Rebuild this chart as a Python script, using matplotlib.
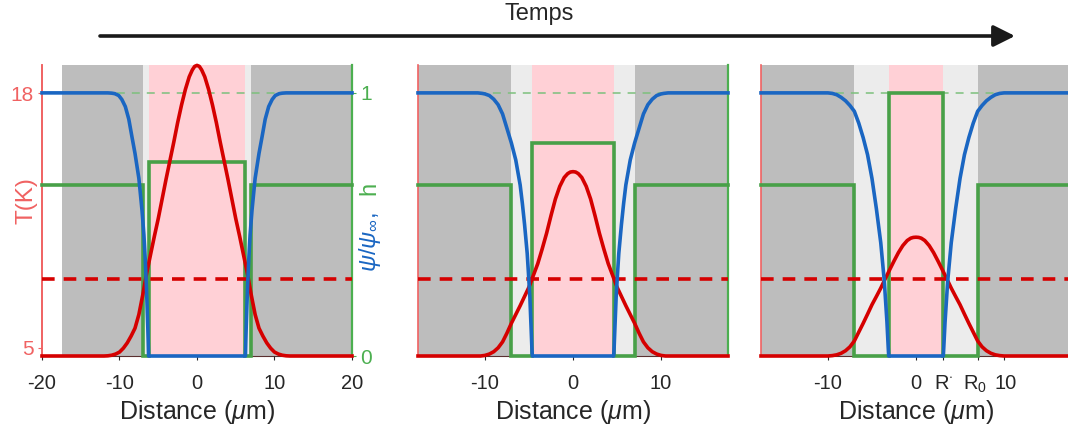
import matplotlib.pyplot as plt
import numpy as np
from matplotlib.patches import FancyArrowPatch
from matplotlib.transforms import ScaledTranslation

plt.rcParams['font.family'] = ['Liberation Sans', 'DejaVu Sans']
plt.rcParams['mathtext.fontset'] = 'custom'
plt.rcParams['mathtext.rm'] = 'Liberation Sans'
plt.rcParams['mathtext.it'] = 'Liberation Sans:italic'
plt.rcParams['axes.unicode_minus'] = False

# ---- data (left half, x <= 0; the profiles are symmetric) ----
# temperature T(K)
x_T1 = [-20, -12, -11.5, -11, -10.5, -10, -9.5, -9, -8.5, -8, -7.5, -7, -6.5, -6, -5.5, -5,
        -4.5, -4, -3.5, -3, -2.5, -2, -1.5, -1, -0.6, -0.3, 0]
T1 = [4.58, 4.58, 4.59, 4.62, 4.68, 4.78, 4.98, 5.25, 5.6, 6.0, 6.7, 7.7, 8.8, 9.75, 10.7, 11.6,
      12.6, 13.6, 14.55, 15.5, 16.5, 17.4, 18.2, 18.85, 19.2, 19.38, 19.43]
x_T2 = [-17.6, -10.5, -10, -9.5, -9, -8.5, -8, -7.5, -7, -6.5, -6, -5, -4, -3.5, -3, -2.5,
        -2, -1.5, -1, -0.6, -0.3, 0]
T2 = [4.58, 4.58, 4.61, 4.68, 4.8, 5.0, 5.3, 5.75, 6.25, 6.7, 7.15, 8.1, 9.3, 10.05, 10.85, 11.75,
      12.6, 13.25, 13.7, 13.9, 13.98, 14.0]
x_T3 = [-17.6, -10, -9.5, -9, -8.5, -8, -7.5, -7, -6.5, -6, -5.5, -5, -4.5, -4, -3.5, -3,
        -2.5, -2, -1.5, -1, -0.6, -0.3, 0]
T3 = [4.58, 4.58, 4.6, 4.64, 4.72, 4.85, 5.05, 5.35, 5.8, 6.25, 6.72, 7.2, 7.62, 8.05, 8.52, 8.98,
      9.43, 9.86, 10.22, 10.48, 10.6, 10.64, 10.65]

# order parameter psi/psi_inf
x_p1 = [-20, -11.5, -11, -10.6, -10.1, -9.7, -9.25, -8.8, -8.4, -8.0, -7.5, -7.1, -6.85, -6.7,
        -6.55, -6.45, -6.35, -6.3, -6.25]
p1 = [1, 1, 0.999, 0.997, 0.99, 0.975, 0.948, 0.9, 0.834, 0.77, 0.675, 0.555, 0.46, 0.38,
      0.28, 0.2, 0.11, 0.06, 0]
x_p2 = [-17.6, -10.8, -10.3, -10, -9.5, -9, -8.5, -8, -7.5, -7, -6.5, -6, -5.75, -5.5, -5.2,
        -5.05, -4.9, -4.75, -4.68, -4.62]
p2 = [1, 1, 0.998, 0.996, 0.99, 0.976, 0.955, 0.92, 0.865, 0.81, 0.745, 0.65, 0.58, 0.5, 0.39,
      0.31, 0.225, 0.1, 0.04, 0]
x_p3 = [-17.6, -10, -9.5, -9, -8.5, -8, -7.5, -7, -6.5, -6, -5.5, -5, -4.5, -4, -3.6, -3.3,
        -3.15, -3.1]
p3 = [1, 1, 0.998, 0.993, 0.983, 0.97, 0.952, 0.93, 0.885, 0.83, 0.765, 0.675, 0.56, 0.43,
      0.285, 0.13, 0.03, 0]

# h levels and radii
h_out = [0.65, 0.65, 0.65]
h_in = [0.736, 0.808, 1.0]
R0 = [7.0, 7.0, 7.0]
Rstar = [6.25, 4.65, 3.1]
T_c = 8.5

xlims = [20, 17.6, 17.6]
gray_start = [-17.4, -17.6, -17.6]

x_T = [x_T1, x_T2, x_T3]
T_all = [T1, T2, T3]
x_p = [x_p1, x_p2, x_p3]
p_all = [p1, p2, p3]

# ---- styles ----
c_red = '#d50000'
c_red_lt = '#f06262'
c_blue = '#1a66c2'
c_green = '#48a048'
c_green_lt = '#4caf50'
c_gray = '#bdbdbd'
c_lgray = '#ececec'
c_pink = '#ffd0d6'
txt = '#262626'
lw = 2.6

T_lo, T_hi = 4.58, 19.45
v_hi = 1.106


def T2v(T):
    return (np.asarray(T) - T_lo) / (T_hi - T_lo) * v_hi


def v2T(v):
    return np.asarray(v) / v_hi * (T_hi - T_lo) + T_lo


def mirror(x, y):
    x = list(x)
    y = list(y)
    return x + [-a for a in x[::-1]], y + y[::-1]


fig = plt.figure(figsize=(10.68, 4.32), dpi=100)
W, H = 1068, 432
lefts = [42, 418, 761]

for i in range(3):
    ax = fig.add_axes([lefts[i] / W, (H - 356) / H, 310 / W, 291 / H])
    L = xlims[i]
    r0, rs = R0[i], Rstar[i]

    # background regions
    ax.axvspan(gray_start[i], -r0, color=c_gray, lw=0, zorder=0)
    ax.axvspan(r0, L, color=c_gray, lw=0, zorder=0)
    ax.axvspan(-r0, -rs, color=c_lgray, lw=0, zorder=0)
    ax.axvspan(rs, r0, color=c_lgray, lw=0, zorder=0)
    ax.axvspan(-rs, rs, color=c_pink, lw=0, zorder=0)

    # h (step profile)
    hx = [-L, -r0, -r0, -rs, -rs, rs, rs, r0, r0, L]
    hy = [h_out[i], h_out[i], 0, 0, h_in[i], h_in[i], 0, 0, h_out[i], h_out[i]]
    ax.plot([-L, L], [1, 1], color='#7cc07c', lw=1.1, dashes=(5.2, 4.6), zorder=2)
    ax.plot(hx, hy, color=c_green, lw=lw, solid_joinstyle='miter', zorder=3, clip_on=False)

    # temperature
    ax.plot([-L, L], T2v([T_c, T_c]), color=c_red, lw=lw, dashes=(3.5, 2.5), zorder=4)
    tx, ty = mirror(x_T[i], T_all[i])
    ax.plot(tx, T2v(ty), color=c_red, lw=lw, zorder=5, clip_on=False)

    # psi
    px, py = mirror(x_p[i], p_all[i])
    ax.plot(px, py, color=c_blue, lw=lw, zorder=6, clip_on=False)

    ax.set_xlim(-L, L)
    ax.set_ylim(0, v_hi)
    ax.set_facecolor('none')

    ax.spines['top'].set_visible(False)
    ax.spines['left'].set_color(c_red_lt)
    ax.spines['left'].set_linewidth(1.2)
    ax.spines['right'].set_color(c_green_lt)
    ax.spines['right'].set_linewidth(1.6)
    ax.spines['bottom'].set_color('#5a3030')
    ax.spines['bottom'].set_linewidth(0.8)
    ax.spines['bottom'].set_zorder(1)

    ax.tick_params(axis='x', direction='out', length=3, width=0.8, color=txt,
                   labelsize=14.5, labelcolor=txt, pad=10)
    ax.set_xlabel(r'Distance ($\mu$m)', fontsize=18, color=txt)
    ax.xaxis.set_label_coords(0.5, -0.145)

    if i == 0:
        ax.set_xticks([-20, -10, 0, 10, 20])
        ax.yaxis.tick_right()
        ax.set_yticks([0, 1])
        ax.tick_params(axis='y', direction='out', length=3, color=c_green_lt,
                       labelcolor=c_green_lt, labelsize=15, pad=3)
        sec = ax.secondary_yaxis('left', functions=(v2T, T2v))
        sec.set_yticks([5, 18])
        sec.spines['left'].set_color(c_red_lt)
        sec.spines['left'].set_linewidth(1.2)
        sec.tick_params(axis='y', direction='out', length=3, color=c_red_lt,
                        labelcolor=c_red_lt, labelsize=15, pad=3)
        ax.text(-0.032, 0.533, 'T(K)', transform=ax.transAxes, rotation=90,
                rotation_mode='anchor', ha='center', va='baseline',
                fontsize=17.5, color=c_red_lt)
        ax.text(1.077, 0.289, r'$\psi/\psi_\infty$,', transform=ax.transAxes,
                rotation=90, rotation_mode='anchor', ha='left', va='baseline',
                fontsize=17, color=c_blue)
        ax.text(1.077, 0.598, 'h', transform=ax.transAxes, rotation=90,
                rotation_mode='anchor', ha='right', va='baseline',
                fontsize=17, color=c_green_lt)
    else:
        ax.set_yticks([])
        if i == 1:
            ax.set_xticks([-10, 0, 10])
        else:
            ax.set_xticks([-10, 0, rs, r0, 10])
            ax.set_xticklabels(['-10', '0', r'R$^{\cdot}$', r'R$_0$', '10'])
            labs = ax.get_xticklabels()
            labs[3].set_transform(labs[3].get_transform()
                                  + ScaledTranslation(-3 / 100, 0, fig.dpi_scale_trans))
            labs[4].set_transform(labs[4].get_transform()
                                  + ScaledTranslation(2 / 100, 0, fig.dpi_scale_trans))

# time arrow
y_arr = 1 - 36 / H
arrow = FancyArrowPatch((100 / W, y_arr), (1015 / W, y_arr), transform=fig.transFigure,
                        arrowstyle='-|>,head_length=1.3,head_width=0.65', mutation_scale=10,
                        lw=2.6, color='#1a1a1a', shrinkA=0, shrinkB=0)
fig.add_artist(arrow)
fig.text(539 / W, 1 - 14 / H, 'Temps', ha='center', va='center', fontsize=17, color=txt)

fig.savefig('out.png', dpi=100)
